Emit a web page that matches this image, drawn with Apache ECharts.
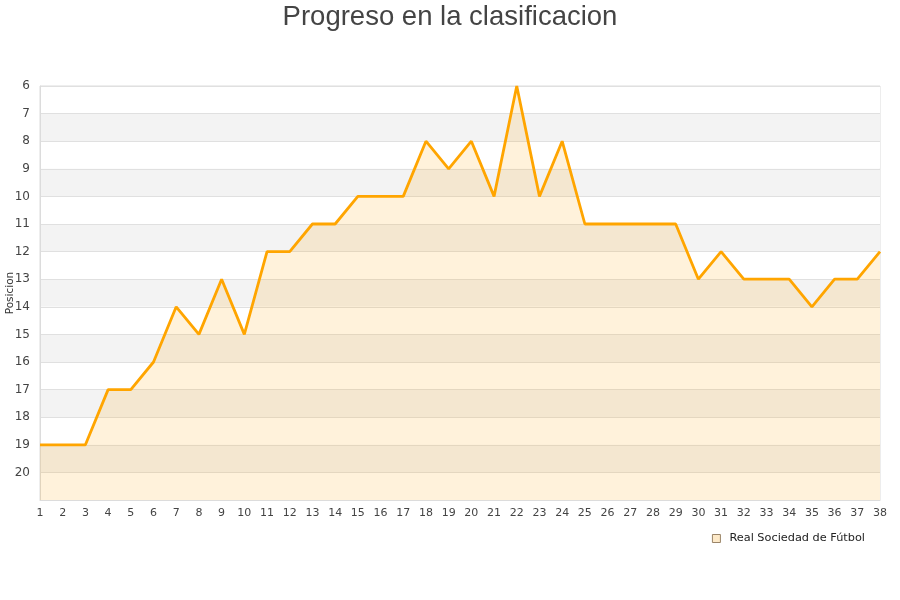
<!DOCTYPE html>
<html>
<head>
<meta charset="utf-8">
<script src="https://cdn.jsdelivr.net/npm/echarts@6/dist/echarts.min.js"></script>
<style>
html,body{margin:0;padding:0;background:#fff;}
#chart{width:900px;height:600px;}
</style>
</head>
<body>
<div id="chart"></div>
<script>
var jornadas = [1,2,3,4,5,6,7,8,9,10,11,12,13,14,15,16,17,18,19,20,21,22,23,24,25,26,27,28,29,30,31,32,33,34,35,36,37,38];
var posiciones = [19,19,19,17,17,16,14,15,13,15,12,12,11,11,10,10,10,8,9,8,10,6,10,8,11,11,11,11,11,13,12,13,13,13,14,13,13,12];
var equipo = 'Real Sociedad de Fútbol';
var titulo = 'Progreso en la clasificacion';
var ejeY = 'Posicion';

var chart = echarts.init(document.getElementById('chart'));
chart.setOption({
  animation: false,
  title: {
    text: titulo,
    left: 'center',
    top: -2,
    textStyle: {fontFamily: 'Liberation Sans', fontSize: 27.5, fontWeight: 'normal', color: '#444'}
  },
  grid: {left: 40, right: 20, top: 86, bottom: 100, containLabel: false, outerBoundsMode: 'none', show: true, borderColor: '#dcdcdc', borderWidth: 1},
  legend: {
    data: [{name: equipo, icon: 'rect', itemStyle: {color: '#fde9c8', borderColor: '#9a8468', borderWidth: 1}}],
    right: 30,
    top: 528,
    itemWidth: 8,
    itemHeight: 8,
    itemGap: 10,
    textStyle: {fontFamily: 'DejaVu Sans', fontSize: 11.3, color: '#222', padding: [0, 0, 0, 4]}
  },
  xAxis: {
    type: 'category',
    data: jornadas,
    boundaryGap: false,
    axisLine: {show: true, lineStyle: {color: '#dcdcdc'}},
    axisTick: {show: false},
    axisLabel: {fontFamily: 'DejaVu Sans', fontSize: 11, color: '#444', margin: 8, interval: 0},
    splitLine: {show: false}
  },
  yAxis: {
    type: 'value',
    inverse: true,
    min: 6,
    max: 21,
    interval: 1,
    name: ejeY,
    nameLocation: 'middle',
    nameGap: 24,
    nameMoveOverlap: false,
    nameTextStyle: {fontFamily: 'DejaVu Sans', fontSize: 10.5, color: '#333'},
    axisLine: {show: true, lineStyle: {color: '#dcdcdc'}},
    axisTick: {show: false},
    axisLabel: {
      fontFamily: 'DejaVu Sans', fontSize: 12, color: '#444', margin: 10,
      formatter: function (v) { return v === 21 ? '' : String(v); }
    },
    splitLine: {show: true, lineStyle: {color: '#e0e0e0'}},
    splitArea: {show: true, areaStyle: {color: ['#ffffff', '#f3f3f3']}}
  },
  series: [{
    name: equipo,
    type: 'line',
    data: posiciones,
    showSymbol: false,
    symbol: 'none',
    lineStyle: {color: '#ffa500', width: 2.8},
    itemStyle: {color: '#ffa500'},
    areaStyle: {color: 'rgba(255,165,0,0.2)', origin: 'end'}
  }]
});
</script>
</body>
</html>
